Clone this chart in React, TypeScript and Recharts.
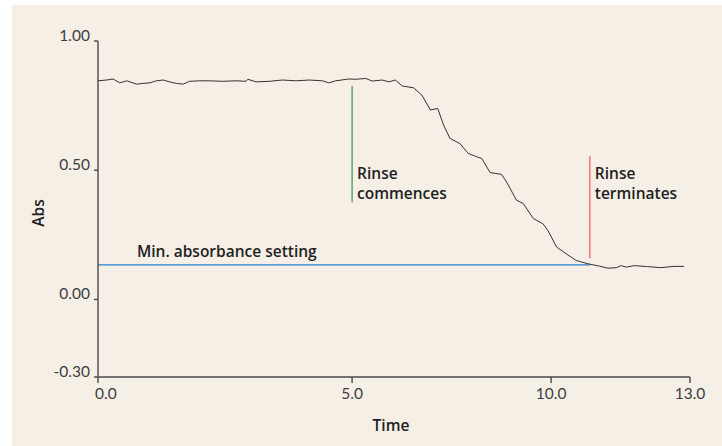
import { LineChart, Line, XAxis, YAxis, ReferenceLine } from "recharts"

// absorbance trace, time in axis units
const time = [
  0.0, 0.19, 0.33, 0.48, 0.63, 0.85, 0.99, 1.14, 1.28, 1.43, 1.57, 1.72, 1.87, 2.01,
  2.23, 2.45, 2.74, 3.03, 3.25, 3.29, 3.47, 3.76, 4.05, 4.35, 4.64, 4.93, 5.07, 5.22,
  5.51, 5.66, 5.88, 6.02, 6.24, 6.39, 6.53, 6.68, 6.93, 7.11, 7.3, 7.46, 7.59, 7.73,
  7.95, 8.13, 8.32, 8.43, 8.61, 8.86, 8.97, 9.19, 9.34, 9.56, 9.77, 9.88, 10.07, 10.28,
  10.5, 10.76, 11.01, 11.2, 11.38, 11.49, 11.6, 11.78, 12.07, 12.36, 12.65, 12.87,
]
const absorbance = [
  0.846, 0.849, 0.853, 0.838, 0.846, 0.833, 0.836, 0.838, 0.846, 0.849, 0.842, 0.836, 0.833, 0.844,
  0.846, 0.846, 0.844, 0.846, 0.844, 0.852, 0.842, 0.844, 0.849, 0.846, 0.849, 0.846, 0.838, 0.846,
  0.853, 0.852, 0.855, 0.845, 0.849, 0.842, 0.849, 0.826, 0.819, 0.791, 0.733, 0.739, 0.674, 0.623,
  0.603, 0.565, 0.552, 0.545, 0.491, 0.484, 0.455, 0.384, 0.371, 0.313, 0.293, 0.267, 0.203, 0.177,
  0.151, 0.138, 0.129, 0.121, 0.123, 0.131, 0.125, 0.131, 0.127, 0.123, 0.128, 0.128,
]

const xTicks = [0, 5.58, 9.95, 13]
const xTickLabels = ["0.0", "5.0", "10.0", "13.0"]
const yTicks = [-0.3, 0, 0.5, 1]
const yTickLabels = ["-0.30", "0.00", "0.50", "1.00"]

const minAbsLevel = 0.134
const minAbsEnd = 10.8
const rinseStart = { t: 5.58, lo: 0.376, hi: 0.826 }
const rinseStop = { t: 10.8, lo: 0.159, hi: 0.554 }

const data = time.map((t, i) => ({ t, abs: absorbance[i] }))

const TICK_FONT = "Lato, 'Open Sans', sans-serif"
const NOTE_FONT = "'Open Sans', Lato, sans-serif"
const AXIS = "#4a4a4a"
const INK = "#222"

function XTick(props: any) {
  const { x, y, payload, index } = props
  const label = xTickLabels[xTicks.indexOf(payload.value)]
  return (
    <text x={index === 0 ? x - 3 : x} y={y + 14} textAnchor={index === 0 ? "start" : "middle"}
      fontFamily={TICK_FONT} fontSize={15.5} fill="#3d3d3d">
      {label}
    </text>
  )
}

function YTick(props: any) {
  const { x, y, payload } = props
  const label = yTickLabels[yTicks.indexOf(payload.value)]
  return (
    <text x={x - 2} y={y} textAnchor="end" fontFamily={TICK_FONT} fontSize={15.5} fill="#3d3d3d">
      {label}
    </text>
  )
}

function note(lines: string[], dx: number, dy: number[], fromBottom: boolean) {
  return (p: any) => {
    const vb = p.viewBox
    const base = fromBottom ? vb.y + vb.height : vb.y
    return (
      <text fontFamily={NOTE_FONT} fontSize={15.5} fontWeight={600} fill={INK}>
        {lines.map((s, i) => (
          <tspan key={i} x={vb.x + dx} y={base + dy[i]}>{s}</tspan>
        ))}
      </text>
    )
  }
}

export default function App() {
  return (
    <div style={{ position: "absolute", left: 0, top: 0, width: 722, height: 446, background: "#fff" }}>
      <div style={{ position: "absolute", left: 12, top: 5, width: 710, height: 441, background: "#f5efe6" }} />
      <div style={{ position: "absolute", left: 0, top: 0 }}>
        <LineChart width={722} height={446} data={data} margin={{ top: 41, right: 32, bottom: 0, left: 0 }}>
          <XAxis dataKey="t" type="number" domain={[0, 13]} ticks={xTicks} height={69}
            axisLine={{ stroke: AXIS, strokeWidth: 1.4 }} tickLine={{ stroke: AXIS, strokeWidth: 1.4 }}
            tickSize={6} tick={<XTick />} interval={0}
            label={{
              content: (p: any) => (
                <text x={p.viewBox.x + p.viewBox.width / 2 - 3} y={431} textAnchor="middle"
                  fontFamily={NOTE_FONT} fontSize={15.5} fontWeight={600} fill={INK}>Time</text>
              ),
            }} />
          <YAxis type="number" domain={[-0.3, 1]} ticks={yTicks} width={98}
            axisLine={{ stroke: AXIS, strokeWidth: 1.4 }} tickLine={{ stroke: AXIS, strokeWidth: 1.4 }}
            tickSize={4} tick={<YTick />} interval={0}
            label={{
              content: (p: any) => {
                const cy = p.viewBox.y + p.viewBox.height / 2 + 4
                return (
                  <text x={38} y={cy} textAnchor="middle" dominantBaseline="central"
                    transform={`rotate(-90 38 ${cy})`}
                    fontFamily={NOTE_FONT} fontSize={15.5} fontWeight={600} fill={INK}>Abs</text>
                )
              },
            }} />
          <ReferenceLine segment={[{ x: 0, y: minAbsLevel }, { x: minAbsEnd, y: minAbsLevel }]}
            stroke="#2a80d0" strokeWidth={1.3}
            label={{ content: note(["Min. absorbance setting"], 39, [-7.5], false) }} />
          <ReferenceLine segment={[{ x: rinseStart.t, y: rinseStart.lo }, { x: rinseStart.t, y: rinseStart.hi }]}
            stroke="#3a9f62" strokeWidth={1.3}
            label={{ content: note(["Rinse", "commences"], 5, [-23.5, -3.5], true) }} />
          <ReferenceLine segment={[{ x: rinseStop.t, y: rinseStop.lo }, { x: rinseStop.t, y: rinseStop.hi }]}
            stroke="#f2707a" strokeWidth={1.5}
            label={{ content: note(["Rinse", "terminates"], 5, [22.3, 42.3], false) }} />
          <Line type="linear" dataKey="abs" stroke="#333" strokeWidth={1} dot={false} isAnimationActive={false} />
        </LineChart>
      </div>
    </div>
  )
}
